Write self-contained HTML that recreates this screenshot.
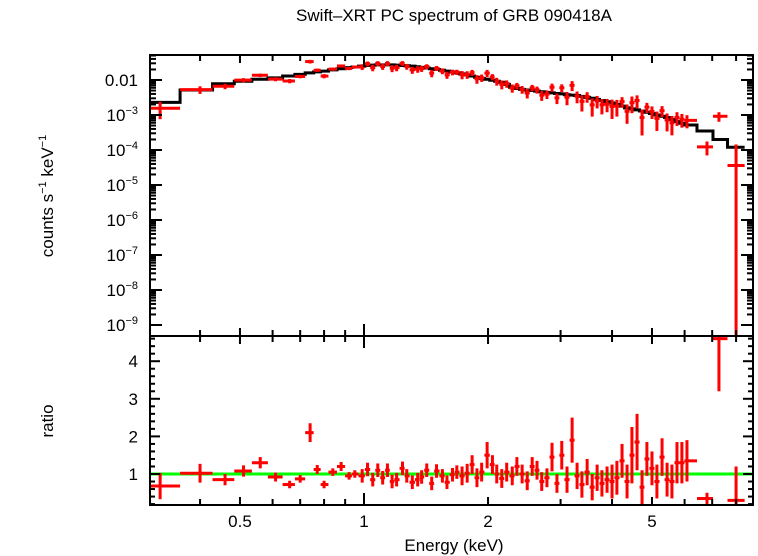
<!DOCTYPE html>
<html><head><meta charset="utf-8">
<style>
html,body{margin:0;padding:0;background:#fff;}
svg{display:block;font-family:"Liberation Sans",sans-serif;}
</style></head>
<body>
<svg id="chart" width="758" height="556" viewBox="0 0 758 556" xmlns="http://www.w3.org/2000/svg">
<text x="454" y="21" font-size="17" text-anchor="middle">Swift–XRT PC spectrum of GRB 090418A</text>
<text transform="translate(53,196) rotate(-90)" font-size="17" text-anchor="middle">counts s<tspan dy="-7" font-size="11">−1</tspan><tspan dy="7"> keV</tspan><tspan dy="-7" font-size="11">−1</tspan></text>
<text transform="translate(53,421) rotate(-90)" font-size="17" text-anchor="middle">ratio</text>
<text x="454" y="551" font-size="17" text-anchor="middle">Energy (keV)</text>
<g id="g"></g>
</svg>
<script>
const energies=[0.32,0.40,0.46,0.51,0.56,0.61,0.66,0.70,0.74,0.77,0.80,0.84,0.88,0.92,0.95,
0.99,1.02,1.05,1.08,1.11,1.14,1.17,1.20,1.24,1.27,1.31,1.35,1.38,1.42,1.46,1.50,1.55,1.59,1.64,1.68,
1.73,1.78,1.83,1.88,1.93,1.99,2.05,2.10,2.16,2.22,2.29,2.35,2.42,2.49,2.56,2.63,2.70,2.78,2.86,2.94,
3.02,3.11,3.20,3.29,3.38,3.48,3.58,3.68,3.78,3.89,4.00,4.11,4.23,4.35,4.47,4.60,4.73,4.86,5.00,5.14,
5.29,5.44,5.59,5.75,5.91,6.08,6.80,7.27,8.0];
const modelCounts=[2.3e-3,5.2e-3,7.8e-3,9.2e-3,1.05e-2,1.15e-2,1.3e-2,1.45e-2,1.6e-2,1.7e-2,1.8e-2,1.95e-2,2.1e-2,2.25e-2,2.35e-2,
0.025,0.026,0.0265,0.027,0.027,0.027,0.027,0.0265,0.026,0.0255,0.025,0.024,0.023,0.022,0.021,0.020,0.019,0.018,0.017,0.016,
0.015,0.014,0.013,0.012,0.011,0.0105,0.0098,0.0092,0.0086,0.0075,0.0062,0.0057,0.0054,0.0052,0.005,0.0048,0.0046,0.0044,0.0043,0.0041,
0.004,0.0038,0.0037,0.0036,0.0034,0.0032,0.003,0.0028,0.0026,0.0024,0.0022,0.002,0.0018,0.0016,0.0015,0.0014,0.0013,0.0012,0.0011,0.001,
0.00092,0.00085,0.00075,0.00065,0.00058,0.00052,0.00035,0.0002,0.00012];
const ratios=[0.68,1.02,0.85,1.08,1.3,0.92,0.72,0.87,2.1,1.12,0.72,1.05,1.2,0.95,1.0,
0.95,1.12,0.85,1.1,0.9,1.1,0.8,0.85,1.15,0.95,0.78,0.85,0.92,1.1,0.75,1.08,0.95,0.78,0.98,1.05,
0.95,1.02,1.25,0.9,1.05,1.5,1.25,1.0,0.88,1.05,0.95,1.2,1.0,0.82,1.2,1.1,0.8,0.9,1.45,0.75,
1.5,0.85,1.9,0.95,0.72,1.05,0.65,0.9,0.75,0.85,0.8,0.9,1.35,0.8,1.5,1.85,0.65,1.4,1.15,0.8,
1.45,0.85,0.8,1.3,1.3,1.35,0.35,4.6,0.3];
const ratioErrs=[0.35,0.25,0.15,0.15,0.15,0.12,0.1,0.1,0.25,0.12,0.1,0.1,0.12,0.1,0.1,
0.18,0.18,0.18,0.18,0.18,0.18,0.18,0.18,0.18,0.18,0.18,0.18,0.18,0.18,0.18,0.18,0.18,0.18,0.18,0.18,
0.25,0.25,0.25,0.25,0.25,0.35,0.25,0.25,0.25,0.25,0.25,0.25,0.25,0.25,0.25,0.25,0.25,0.25,0.38,0.25,
0.38,0.35,0.6,0.35,0.35,0.35,0.35,0.35,0.35,0.35,0.45,0.45,0.45,0.45,0.75,0.75,0.45,0.45,0.45,0.45,
0.5,0.45,0.45,0.55,0.55,0.55,0.15,1.4,0.9];
const xTicks=[0.5,1,2,5];
const xTickLabels=["0.5","1","2","5"];
const ratioTicks=[1,2,3,4];
const countDecades=[-9,-8,-7,-6,-5,-4,-3,-2];

const L=150,R=753,T=55,M=336,B=505;
const X=e=>364+412*Math.log10(e);
const YC=v=>80-35*(Math.log10(v)+2);
const YR=r=>474-37.6*(r-1);
const g=document.getElementById('g');
const NS='http://www.w3.org/2000/svg';
function mk(tag,attrs,parent){const el=document.createElementNS(NS,tag);for(const k in attrs)el.setAttribute(k,attrs[k]);(parent||g).appendChild(el);return el;}
const clip=(v,a,b)=>Math.max(a,Math.min(b,v));

const lo=[],hi=[];
for(let i=0;i<energies.length;i++){
  const prev=i>0?energies[i-1]:energies[0]*energies[0]/energies[1];
  const next=i<energies.length-1?energies[i+1]:energies[i]*energies[i]/energies[i-1];
  lo.push(Math.sqrt(prev*energies[i]));hi.push(Math.sqrt(next*energies[i]));
}
lo[0]=0.303;

let d='';
for(let i=0;i<energies.length;i++){
  const y=YC(modelCounts[i]);
  d+=(i===0?'M':'L')+clip(X(lo[i]),L,R)+','+y+'L'+clip(X(hi[i]),L,R)+','+y;
}
const model=mk('path',{d:d,fill:'none',stroke:'#000','stroke-width':3});



const unity=mk('line',{x1:L,x2:R,y1:YR(1),y2:YR(1),stroke:'#00ff00','stroke-width':3});



for(let i=0;i<energies.length;i++){
  const xl=clip(X(lo[i]),L,R),xh=clip(X(hi[i]),L,R),xc=clip(X(energies[i]),L,R);
  const c=modelCounts[i]*ratios[i],ce=modelCounts[i]*ratioErrs[i];
  const yc=YC(c),yt=clip(YC(c+ce),T,M),yb=c-ce>0?clip(YC(c-ce),T,M):M;
  const gp=mk('g',{stroke:'#ff0000','stroke-width':3});
  
  
  mk('line',{x1:xl,x2:xh,y1:yc,y2:yc},gp);
  mk('line',{x1:xc,x2:xc,y1:yt,y2:yb},gp);
  const yr=YR(ratios[i]);
  const gr=mk('g',{stroke:'#ff0000','stroke-width':3});
  
  
  mk('line',{x1:xl,x2:xh,y1:clip(yr,M,B),y2:clip(yr,M,B)},gr);
  mk('line',{x1:xc,x2:xc,y1:clip(YR(ratios[i]+ratioErrs[i]),M,B),y2:clip(YR(ratios[i]-ratioErrs[i]),M,B)},gr);
}

const f1=mk('rect',{x:L,y:T,width:R-L,height:M-T,fill:'none',stroke:'#000','stroke-width':2});


const f2=mk('rect',{x:L,y:M,width:R-L,height:B-M,fill:'none',stroke:'#000','stroke-width':2});



const minorX=[0.3,0.4,0.6,0.7,0.8,0.9,3,4,6,7,8];
const tk=mk('g',{stroke:'#000','stroke-width':2});


function xt(e,len){const x=X(e);if(x<L||x>R)return;[T,M].forEach(y=>mk('line',{x1:x,x2:x,y1:y,y2:y+len},tk));[M,B].forEach(y=>mk('line',{x1:x,x2:x,y1:y,y2:y-len},tk));}
minorX.forEach(e=>xt(e,6));
xTicks.forEach(e=>xt(e,e===1?12:8));
xTicks.forEach((e,i)=>{
  const t=mk('text',{x:X(e),y:527,'font-size':17,'text-anchor':'middle'});
  t.textContent=xTickLabels[i];
  
  
});
countDecades.forEach(p=>{
  for(let m=1;m<10;m++){
    const y=YC(m*Math.pow(10,p));if(y<T||y>M)continue;
    const len=m===1?12:6;
    mk('line',{x1:L,x2:L+len,y1:y,y2:y},tk);mk('line',{x1:R,x2:R-len,y1:y,y2:y},tk);
  }
  const t=mk('text',{x:138,y:YC(Math.pow(10,p))+6,'font-size':17,'text-anchor':'end'});
  
  
  if(p===-2){t.textContent='0.01';}
  else{t.textContent='10';const s=mk('tspan',{dy:-7,'font-size':11},t);s.textContent='−'+(-p);}
});
for(let r=0.2;r<=4.65;r+=0.2){
  const y=YR(r);if(y<M||y>B)continue;
  const major=Math.abs(r-Math.round(r))<0.01;const len=major?10:5;
  mk('line',{x1:L,x2:L+len,y1:y,y2:y},tk);mk('line',{x1:R,x2:R-len,y1:y,y2:y},tk);
}
ratioTicks.forEach(r=>{
  const t=mk('text',{x:138,y:YR(r)+6,'font-size':17,'text-anchor':'end'});
  t.textContent=String(r);
  
  
});
</script>
</body></html>
